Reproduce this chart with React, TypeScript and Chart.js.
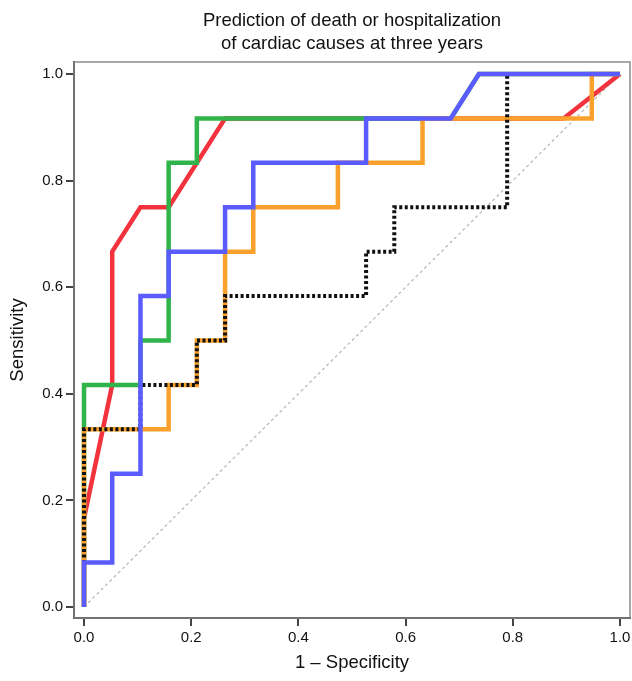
import React, { useEffect, useRef } from "react";
import { Chart, registerables } from "chart.js";

Chart.register(...registerables);

const titleLines = ["Prediction of death or hospitalization", "of cardiac causes at three years"];
const xTitle = "1 – Specificity";
const yTitle = "Sensitivity";
const tickValues = [0, 0.2, 0.4, 0.6, 0.8, 1.0];

const refX = [0, 1];
const refY = [0, 1];

const redX = [0, 0, 0.0526, 0.0526, 0.1053, 0.1579, 0.2632, 0.8947, 1.0];
const redY = [0, 0.1667, 0.4167, 0.6667, 0.75, 0.75, 0.9167, 0.9167, 1.0];

const greenX = [0, 0, 0.1053, 0.1053, 0.1579, 0.1579, 0.2105, 0.2105, 0.6842, 0.7368, 1.0];
const greenY = [0, 0.4167, 0.4167, 0.5, 0.5, 0.8333, 0.8333, 0.9167, 0.9167, 1.0, 1.0];

const blueX = [0, 0, 0.0526, 0.0526, 0.1053, 0.1053, 0.1579, 0.1579, 0.2632, 0.2632, 0.3158, 0.3158, 0.5263, 0.5263, 0.6842, 0.7368, 1.0];
const blueY = [0, 0.0833, 0.0833, 0.25, 0.25, 0.5833, 0.5833, 0.6667, 0.6667, 0.75, 0.75, 0.8333, 0.8333, 0.9167, 0.9167, 1.0, 1.0];

const orangeX = [0, 0, 0.1579, 0.1579, 0.2105, 0.2105, 0.2632, 0.2632, 0.3158, 0.3158, 0.4737, 0.4737, 0.6316, 0.6316, 0.9474, 0.9474, 1.0];
const orangeY = [0, 0.3333, 0.3333, 0.4167, 0.4167, 0.5, 0.5, 0.6667, 0.6667, 0.75, 0.75, 0.8333, 0.8333, 0.9167, 0.9167, 1.0, 1.0];

const blackX = [0, 0, 0.1053, 0.1053, 0.2105, 0.2105, 0.2632, 0.2632, 0.5263, 0.5263, 0.5789, 0.5789, 0.7895, 0.7895, 1.0];
const blackY = [0, 0.3333, 0.3333, 0.4167, 0.4167, 0.5, 0.5, 0.5833, 0.5833, 0.6667, 0.6667, 0.75, 0.75, 1.0, 1.0];

const pts = (xs: number[], ys: number[]) => xs.map((x, i) => ({ x, y: ys[i] }));

const FONT = "'Liberation Sans', Arial, Helvetica, sans-serif";

const framePlugin = {
  id: "frame",
  beforeDatasetsDraw(chart: any) {
    const { ctx, chartArea } = chart;
    ctx.save();
    ctx.strokeStyle = "#8a8a8a";
    ctx.lineWidth = 1.5;
    ctx.strokeRect(chartArea.left, chartArea.top, chartArea.right - chartArea.left, chartArea.bottom - chartArea.top);
    ctx.restore();
  },
};

export default function App() {
  const ref = useRef<HTMLCanvasElement | null>(null);
  useEffect(() => {
    if (!ref.current) return;
    const lineDs = (data: any[], color: string, order: number, extra: any = {}) => ({
      data,
      borderColor: color,
      backgroundColor: color,
      borderWidth: 4.5,
      pointRadius: 0,
      tension: 0,
      fill: false,
      borderJoinStyle: "miter",
      borderCapStyle: "butt",
      order,
      ...extra,
    });
    const chart = new Chart(ref.current, {
      type: "line",
      data: {
        datasets: [
          lineDs(pts(refX, refY), "#b5b5b5", 6, { borderWidth: 1.2, borderDash: [3, 3] }),
          lineDs(pts(redX, redY), "#f2333d", 5),
          lineDs(pts(greenX, greenY), "#2fb34a", 4),
          lineDs(pts(orangeX, orangeY), "#f9a12c", 3),
          lineDs(pts(blackX, blackY), "#111111", 2, { borderWidth: 4, borderDash: [3, 2.5] }),
          lineDs(pts(blueX, blueY), "#5b5cff", 1),
        ] as any,
      },
      options: {
        animation: false,
        responsive: false,
        devicePixelRatio: 1,
        layout: { padding: { left: 0, right: 2, top: 0, bottom: 0 } },
        plugins: {
          legend: { display: false },
          tooltip: { enabled: false },
          title: {
            display: true,
            text: titleLines,
            fullSize: false,
            color: "#111",
            font: { family: FONT, size: 18.5, weight: "normal", lineHeight: 23 / 18.5 },
            padding: { top: 9.5, bottom: 6.5 },
          },
        },
        scales: {
          x: {
            type: "linear",
            min: -0.0187,
            max: 1.0187,
            afterBuildTicks: (axis: any) => {
              axis.ticks = tickValues.map((v) => ({ value: v }));
            },
            afterFit: (axis: any) => {
              axis.height = 63;
              axis.paddingLeft = 0;
              axis.paddingRight = 0;
            },
            border: { display: true, color: "#2a2a2a", width: 2 },
            grid: { drawOnChartArea: false, drawTicks: true, tickLength: 8, color: "#444", lineWidth: 2 },
            ticks: {
              color: "#111",
              font: { family: FONT, size: 15 },
              padding: 3,
              maxRotation: 0,
              callback: (v: any) => Number(v).toFixed(1),
            },
            title: {
              display: true,
              text: xTitle,
              color: "#111",
              font: { family: FONT, size: 18.5 },
              padding: { top: 0, bottom: 7 },
            },
          },
          y: {
            type: "linear",
            min: -0.0206,
            max: 1.0225,
            afterBuildTicks: (axis: any) => {
              axis.ticks = tickValues.map((v) => ({ value: v }));
            },
            afterFit: (axis: any) => {
              axis.width = 74;
              axis.paddingTop = 0;
              axis.paddingBottom = 0;
            },
            border: { display: true, color: "#2a2a2a", width: 2 },
            grid: { drawOnChartArea: false, drawTicks: true, tickLength: 8, color: "#444", lineWidth: 2 },
            ticks: {
              color: "#111",
              font: { family: FONT, size: 15 },
              padding: 3,
              callback: (v: any) => Number(v).toFixed(1),
            },
            title: {
              display: true,
              text: yTitle,
              color: "#111",
              font: { family: FONT, size: 18.5 },
              padding: { top: 7, bottom: 0 },
            },
          },
        },
      } as any,
      plugins: [framePlugin],
    });
    return () => chart.destroy();
  }, []);
  return (
    <div style={{ position: "fixed", left: 0, top: 0, width: 632, height: 681, background: "#fff" }}>
      <canvas ref={ref} width={632} height={681} style={{ width: 632, height: 681, display: "block" }} />
    </div>
  );
}
